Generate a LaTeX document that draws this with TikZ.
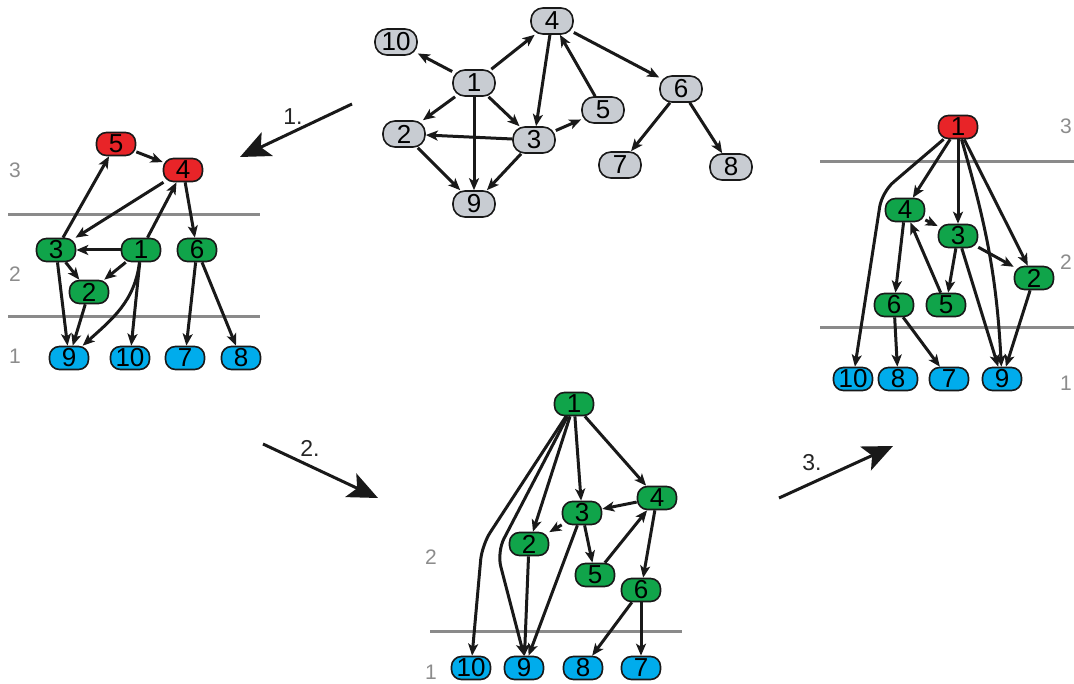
\documentclass[tikz,border=0pt]{standalone}
\usepackage{fontspec}
\setmainfont{Liberation Sans}
\usetikzlibrary{arrows.meta}

\definecolor{ngray}{RGB}{200,204,210}
\definecolor{nred}{RGB}{232,36,40}
\definecolor{ngreen}{RGB}{16,164,74}
\definecolor{nblue}{RGB}{0,172,236}
\definecolor{rulegray}{RGB}{138,138,138}
\definecolor{lablgray}{RGB}{140,140,140}

\begin{document}
\begin{tikzpicture}[x=1pt,y=-1pt,
  nd/.style={draw=black!90, line width=1.6pt, rounded corners=10pt,
    minimum width=39pt, minimum height=23pt, inner sep=0pt,
    font=\fontsize{26pt}{26pt}\selectfont},
  gy/.style={nd, fill=ngray, minimum width=42pt, minimum height=26pt, rounded corners=12pt},
  rd/.style={nd, fill=nred},
  gn/.style={nd, fill=ngreen},
  bl/.style={nd, fill=nblue},
  ed/.style={-{Stealth[length=12pt,width=10pt,inset=3pt]}, line width=3pt, black!90},
  bentedge/.style={ed, rounded corners=15pt},
  bigarrow/.style={-{Stealth[length=30pt,width=26pt,inset=7pt]}, line width=3pt, black!90},
  rule/.style={rulegray, line width=3pt},
  lvl/.style={lablgray, font=\fontsize{21pt}{21pt}\selectfont},
  steplabel/.style={black!85, font=\fontsize{23pt}{23pt}\selectfont}
]
\useasboundingbox (0,0) rectangle (1074,684);

% ---------- original graph ----------
\node[gy] (T10) at (396,42) {10};
\node[gy] (T4) at (552,21) {4};
\node[gy] (T1) at (474,83) {1};
\node[gy] (T2) at (404,134) {2};
\node[gy] (T3) at (534,140) {3};
\node[gy] (T5) at (603,110) {5};
\node[gy] (T6) at (681,89) {6};
\node[gy] (T7) at (620,165) {7};
\node[gy] (T8) at (731,167) {8};
\node[gy] (T9) at (474,204) {9};
\draw[ed] (T1) -- (T10);
\draw[ed] (T1) -- (T4);
\draw[ed] (T1) -- (T2);
\draw[ed] (T1) -- (T3);
\draw[ed] (T1) -- (T9);
\draw[ed] (T3) -- (T2);
\draw[ed] (T4) -- (T3);
\draw[ed] (T3) -- (T5);
\draw[ed] (T5) -- (T4);
\draw[ed] (T4) -- (T6);
\draw[ed] (T6) -- (T7);
\draw[ed] (T6) -- (T8);
\draw[ed] (T2) -- (T9);
\draw[ed] (T3) -- (T9);

% ---------- step 1: layering with 5 and 4 on top ----------
\draw[rule] (8,215) -- (260,215);
\draw[rule] (8,317) -- (260,317);
\node[lvl] (la3) at (15,170) {3};
\node[lvl] (la2) at (15,274) {2};
\node[lvl] (la1) at (15,356) {1};
\node[rd] (L5) at (116,144) {5};
\node[rd] (L4) at (183,170) {4};
\node[gn] (L3) at (56,250) {3};
\node[gn] (L1) at (141,250) {1};
\node[gn] (L6) at (197,250) {6};
\node[gn] (L2) at (89,292) {2};
\node[bl] (L9) at (69,358) {9};
\node[bl] (L10) at (130,358) {10};
\node[bl] (L7) at (185,358) {7};
\node[bl] (L8) at (241,358) {8};
\draw[ed] (L3) -- (L5);
\draw[ed] (L5) -- (L4);
\draw[ed] (L4) -- (L3);
\draw[ed] (L1) -- (L4);
\draw[ed] (L4) -- (L6);
\draw[ed] (L1) -- (L3);
\draw[ed] (L3) -- (L2);
\draw[ed] (L1) -- (L2);
\draw[ed] (L3) -- (L9);
\draw[ed] (L2) -- (L9);
\draw[ed] (L1) to[out=-97,in=42] (L9);
\draw[ed] (L1) -- (L10);
\draw[ed] (L6) -- (L7);
\draw[ed] (L6) -- (L8);

% ---------- step 2: two layers ----------
\draw[rule] (430,631) -- (682,631);
\node[lvl] (lb2) at (431,557) {2};
\node[lvl] (lb1) at (431,672) {1};
\node[gn] (B1) at (574,404) {1};
\node[gn] (B4) at (657,498) {4};
\node[gn] (B3) at (582,513) {3};
\node[gn] (B2) at (529,544) {2};
\node[gn] (B5) at (595,575) {5};
\node[gn] (B6) at (641,590) {6};
\node[bl] (B10) at (471,668) {10};
\node[bl] (B9) at (524,668) {9};
\node[bl] (B8) at (583,668) {8};
\node[bl] (B7) at (641,668) {7};
\coordinate (bk1) at (482,545);
\coordinate (bk2) at (497,552);
\draw[bentedge] (B1) -- (bk1) -- (B10);
\draw[bentedge] (B1) -- (bk2) -- (B9.north);
\draw[ed] (B1) -- (B2);
\draw[ed] (B1) -- (B3);
\draw[ed] (B1) -- (B4);
\draw[ed] (B4) -- (B3);
\draw[ed] (B3) -- (B2);
\draw[ed] (B3) -- (B5);
\draw[ed] (B5) -- (B4);
\draw[ed] (B4) -- (B6);
\draw[ed] (B3) -- (B9);
\draw[ed] (B2) -- (B9);
\draw[ed] (B6) -- (B8);
\draw[ed] (B6) -- (B7);

% ---------- step 3: three layers with 1 on top ----------
\draw[rule] (820,162) -- (1074,162);
\draw[rule] (820,328) -- (1074,328);
\node[lvl] (lc3) at (1066,126) {3};
\node[lvl] (lc2) at (1066,262) {2};
\node[lvl] (lc1) at (1066,383) {1};
\node[rd] (R1) at (958,127) {1};
\node[gn] (R4) at (905,210) {4};
\node[gn] (R3) at (958,236) {3};
\node[gn] (R2) at (1034,278) {2};
\node[gn] (R6) at (894,305) {6};
\node[gn] (R5) at (946,305) {5};
\node[bl] (R10) at (853,379) {10};
\node[bl] (R8) at (898,379) {8};
\node[bl] (R7) at (949,379) {7};
\node[bl] (R9) at (1002,379) {9};
\coordinate (rk1) at (882,192);
\draw[bentedge] (R1) -- (rk1) -- (R10);
\draw[ed] (R1) -- (R4);
\draw[ed] (R1) -- (R3);
\draw[ed] (R1) to[out=-74,in=93] (R9);
\draw[ed] (R1) -- (R2);
\draw[ed] (R4) -- (R3);
\draw[ed] (R4) -- (R6);
\draw[ed] (R5) -- (R4);
\draw[ed] (R3) -- (R5);
\draw[ed] (R3) -- (R9);
\draw[ed] (R3) -- (R2);
\draw[ed] (R2) -- (R9);
\draw[ed] (R6) -- (R8);
\draw[ed] (R6) -- (R7);

% ---------- transformation steps ----------
\coordinate (a1s) at (352,104);
\coordinate (a1e) at (240,157);
\draw[bigarrow] (a1s) -- (a1e);
\node[steplabel] (s1) at (293,117) {1.};
\coordinate (a2s) at (263,444);
\coordinate (a2e) at (378,498);
\draw[bigarrow] (a2s) -- (a2e);
\node[steplabel] (s2) at (310,448) {2.};
\coordinate (a3s) at (779,498);
\coordinate (a3e) at (893,446);
\draw[bigarrow] (a3s) -- (a3e);
\node[steplabel] (s3) at (812,463) {3.};
\end{tikzpicture}
\end{document}
